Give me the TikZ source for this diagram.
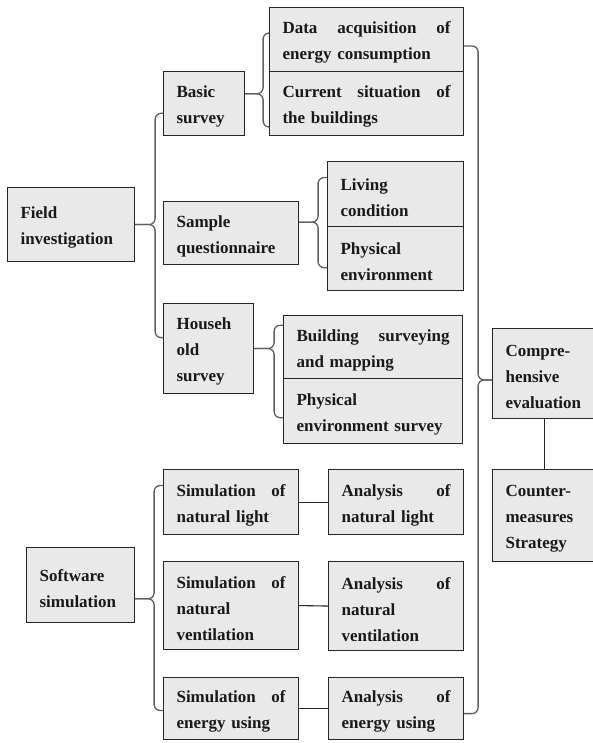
\documentclass[tikz,border=0pt]{standalone}
\usepackage{fontspec}
\setmainfont{Liberation Serif}
\usetikzlibrary{calc}
\definecolor{cellgray}{RGB}{233,233,233}
\definecolor{bracegray}{RGB}{95,95,95}

\begin{document}
\begin{tikzpicture}[x=1pt,y=-1pt]
  \tikzstyle{cell}=[draw=black!85,fill=cellgray,line width=1.1pt,anchor=north west,align=left,inner xsep=13pt,inner ysep=0pt,text=black!90,font=\fontsize{17}{26}\selectfont\bfseries,execute at begin node=\strut]
  \tikzstyle{brace}=[draw=bracegray,line width=1.3pt,rounded corners=6pt]
  \tikzstyle{link}=[draw=black!85,line width=1.1pt]
  \useasboundingbox (0,0) rectangle (593,743);

  \node[cell,text width=101,minimum height=74] (fi) at (7,187) {Field\\investigation};
  \node[cell,text width=55,minimum height=64] (bs) at (163,71) {Basic\\survey};
  \node[cell,text width=109,minimum height=63] (sq) at (163,201) {Sample\\questionnaire};
  \node[cell,text width=64,minimum height=90] (hs) at (163,303) {Househ\\old\\survey};
  \node[cell,text width=168,minimum height=64] (da) at (269,7) {Data\hfill acquisition\hfill of\\energy consumption};
  \node[cell,text width=168,minimum height=64] (cs) at (269,71) {Current\hfill situation\hfill of\\the buildings};
  \node[cell,text width=110,minimum height=65] (lc) at (327,161) {Living\\condition};
  \node[cell,text width=110,minimum height=64] (pe) at (327,226) {Physical\\environment};
  \node[cell,text width=153,minimum height=63] (bsm) at (283,315) {Building\hfill surveying\\and mapping};
  \node[cell,text width=153,minimum height=65] (pes) at (283,378) {Physical\\environment survey};
  \node[cell,text width=78,minimum height=90] (ce) at (492,328) {Compre-\\hensive\\evaluation};
  \node[cell,text width=78,minimum height=92] (cm) at (492,469) {Counter-\\measures\\Strategy};
  \node[cell,text width=82,minimum height=75] (ss) at (26,547) {Software\\simulation};
  \node[cell,text width=109,minimum height=65] (snl) at (163,469) {Simulation\hfill of\\natural light};
  \node[cell,text width=109,minimum height=88] (snv) at (163,561) {Simulation\hfill of\\natural\\ventilation};
  \node[cell,text width=109,minimum height=62] (seu) at (163,677) {Simulation\hfill of\\energy using};
  \node[cell,text width=109,minimum height=65] (anl) at (328,469) {Analysis\hfill of\\natural light};
  \node[cell,text width=109,minimum height=89] (anv) at (328,561) {Analysis\hfill of\\natural\\ventilation};
  \node[cell,text width=109,minimum height=62] (aeu) at (328,677) {Analysis\hfill of\\energy using};

  % braces
  \draw[brace] (fi.east) -- ++(20,0) |- ($(bs.north west)!0.65!(bs.south west)$);
  \draw[brace] (fi.east) -- ++(20,0) |- ($(hs.north west)!0.38!(hs.south west)$);
  \coordinate (bsv) at ($(bs.north east)!0.35!(bs.south east)$);
  \draw[brace] (bsv) -- ++(18,0) |- ($(da.north west)!0.4!(da.south west)$);
  \draw[brace] (bsv) -- ++(18,0) |- ($(cs.north west)!0.86!(cs.south west)$);
  \coordinate (sqv) at ($(sq.north east)!0.33!(sq.south east)$);
  \draw[brace] (sqv) -- ++(19,0) |- ($(lc.north west)!0.25!(lc.south west)$);
  \draw[brace] (sqv) -- ++(19,0) |- ($(pe.north west)!0.64!(pe.south west)$);
  \draw[brace] (hs.east) -- ++(20,0) |- ($(bsm.north west)!0.16!(bsm.south west)$);
  \draw[brace] (hs.east) -- ++(20,0) |- ($(pes.north west)!0.6!(pes.south west)$);
  \coordinate (ssv) at ($(ss.north east)!0.68!(ss.south east)$);
  \draw[brace] (ssv) -- ++(19,0) |- ($(snl.north west)!0.25!(snl.south west)$);
  \draw[brace] (ssv) -- ++(19,0) |- ($(seu.north west)!0.53!(seu.south west)$);
  \coordinate (cev) at ($(ce.north west)!0.57!(ce.south west)$);
  \draw[brace] ($(da.north east)!0.6!(da.south east)$) -- ++(14,0) |- (cev);
  \draw[brace] ($(aeu.north east)!0.58!(aeu.south east)$) -- ++(14,0) |- (cev);

  \draw[link] (snl) -- (anl);
  \draw[link] (snv.east) -- (anv.west);
  \draw[link] (seu.east) -- (aeu.west);
  \draw[link] (ce) -- (cm);
\end{tikzpicture}
\end{document}
